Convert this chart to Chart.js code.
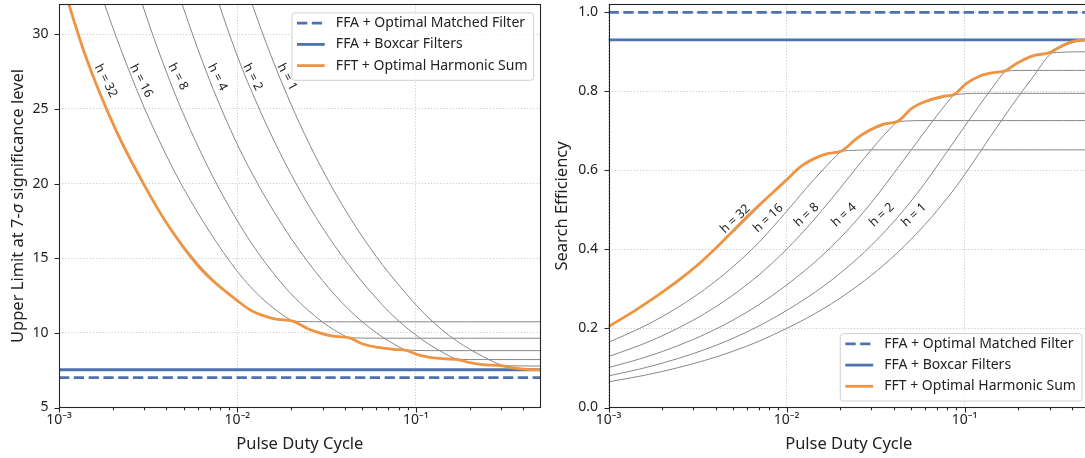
<!DOCTYPE html>
<html>
<head>
<meta charset="utf-8">
<script src="https://cdn.jsdelivr.net/npm/chart.js@4.4.0/dist/chart.umd.min.js"></script>
<style>
  html, body { margin: 0; padding: 0; background: #fff; overflow: hidden; }
  body { width: 1085px; height: 458px; position: relative; }
  .panel { position: absolute; top: 0; width: 548px; height: 458px; }
  #left { left: 0; }
  #right { left: 550px; }
</style>
</head>
<body>
<div class="panel" id="left"><canvas id="limitChart"></canvas></div>
<div class="panel" id="right"><canvas id="effChart"></canvas></div>
<script>
// pulse duty cycle sampling used for the per-harmonic curves
const dutyCycle = [0.001, 0.0015, 0.002, 0.003, 0.004, 0.005, 0.007, 0.01, 0.013, 0.016, 0.02, 0.025, 0.03, 0.035, 0.042, 0.05, 0.06, 0.07, 0.088, 0.1, 0.12, 0.14, 0.17, 0.2, 0.24, 0.3, 0.36, 0.42, 0.5];
const harmonics = [32, 16, 8, 4, 2, 1];

// search efficiency (right panel), one array per number of summed harmonics
const effH1  = [0.065, 0.0792, 0.0911, 0.111, 0.1276, 0.1423, 0.1676, 0.200, 0.2262, 0.2493, 0.2768, 0.3074, 0.3348, 0.3599, 0.3919, 0.4254, 0.4633, 0.498, 0.554, 0.589, 0.641, 0.686, 0.741, 0.786, 0.834, 0.892, 0.914, 0.925, 0.930];
const effH2  = [0.080, 0.0974, 0.1121, 0.1365, 0.157, 0.175, 0.2062, 0.2454, 0.2775, 0.3058, 0.3396, 0.3771, 0.4107, 0.4415, 0.4808, 0.522, 0.5684, 0.611, 0.675, 0.711, 0.762, 0.803, 0.852, 0.872, 0.889, 0.897, 0.899, 0.900, 0.900];
const effH4  = [0.101, 0.123, 0.1415, 0.1723, 0.1982, 0.221, 0.2603, 0.3098, 0.3504, 0.3861, 0.4288, 0.4762, 0.5186, 0.5575, 0.605, 0.651, 0.699, 0.739, 0.794, 0.818, 0.838, 0.846, 0.851, 0.853, 0.853, 0.853, 0.853, 0.853, 0.853];
const effH8  = [0.129, 0.1574, 0.1813, 0.2212, 0.2548, 0.2844, 0.3356, 0.400, 0.4547, 0.5015, 0.5549, 0.6092, 0.6527, 0.6875, 0.7246, 0.755, 0.772, 0.781, 0.791, 0.794, 0.795, 0.795, 0.795, 0.795, 0.795, 0.795, 0.795, 0.795, 0.795];
const effH16 = [0.165, 0.2003, 0.2298, 0.2789, 0.320, 0.356, 0.418, 0.496, 0.5564, 0.6014, 0.646, 0.681, 0.7015, 0.7142, 0.7229, 0.7255, 0.726, 0.726, 0.726, 0.726, 0.726, 0.726, 0.726, 0.726, 0.726, 0.726, 0.726, 0.726, 0.726];
const effH32 = [0.205, 0.253, 0.292, 0.353, 0.402, 0.443, 0.508, 0.576, 0.620, 0.639, 0.6485, 0.651, 0.652, 0.652, 0.652, 0.652, 0.652, 0.652, 0.652, 0.652, 0.652, 0.652, 0.652, 0.652, 0.652, 0.652, 0.652, 0.652, 0.652];

// optimal harmonic sum (orange), sampled on its own duty cycles so the cusps show
const hsumDuty = [0.001, 0.0014, 0.0021, 0.0031, 0.004, 0.0062, 0.01, 0.012, 0.0145, 0.0168, 0.0204, 0.0248, 0.0294, 0.035, 0.0425, 0.0505, 0.0613, 0.0745, 0.0884, 0.103, 0.122, 0.145, 0.169, 0.197, 0.244, 0.3, 0.359, 0.418, 0.5];
const effHsum  = [0.205, 0.2445, 0.298, 0.357, 0.403, 0.489, 0.576, 0.6095, 0.631, 0.642, 0.649, 0.681, 0.702, 0.717, 0.725, 0.757, 0.7757, 0.7866, 0.7935, 0.8206, 0.839, 0.8474, 0.8517, 0.8712, 0.8904, 0.898, 0.9175, 0.9276, 0.930];
const effMatched = 1.0;
const effBoxcar = 0.93;

// upper limit at 7-sigma (left panel), null where the curve is far above the plot
const limH1  = [null, null, null, null, null, null, 41.8, 35.0, 30.95, 28.08, 25.29, 22.77, 20.91, 19.45, 17.86, 16.46, 15.11, 14.06, 12.64, 11.88, 10.92, 10.20, 9.45, 8.91, 8.39, 7.85, 7.66, 7.57, 7.53];
const limH2  = [null, null, null, null, 44.6, 40.0, 33.95, 28.52, 25.23, 22.89, 20.61, 18.56, 17.04, 15.85, 14.56, 13.41, 12.32, 11.46, 10.37, 9.85, 9.19, 8.72, 8.22, 8.03, 7.87, 7.80, 7.79, 7.78, 7.78];
const limH4  = [null, null, null, 40.6, 35.3, 31.7, 26.89, 22.60, 19.98, 18.13, 16.32, 14.70, 13.50, 12.56, 11.57, 10.75, 10.01, 9.47, 8.82, 8.56, 8.35, 8.27, 8.23, 8.21, 8.21, 8.21, 8.21, 8.21, 8.21];
const limH8  = [null, 44.5, 38.6, 31.65, 27.47, 24.61, 20.86, 17.5, 15.39, 13.96, 12.61, 11.49, 10.72, 10.18, 9.66, 9.27, 9.07, 8.96, 8.85, 8.82, 8.81, 8.81, 8.81, 8.81, 8.81, 8.81, 8.81, 8.81, 8.81];
const limH16 = [42.4, 34.95, 30.46, 25.10, 21.88, 19.66, 16.75, 14.11, 12.58, 11.64, 10.84, 10.28, 9.98, 9.80, 9.68, 9.65, 9.64, 9.64, 9.64, 9.64, 9.64, 9.64, 9.64, 9.64, 9.64, 9.64, 9.64, 9.64, 9.64];
const limH32 = [34.15, 27.67, 23.97, 19.83, 17.41, 15.80, 13.78, 12.15, 11.29, 10.95, 10.79, 10.75, 10.74, 10.74, 10.74, 10.74, 10.74, 10.74, 10.74, 10.74, 10.74, 10.74, 10.74, 10.74, 10.74, 10.74, 10.74, 10.74, 10.74];
const limHsum = [34.15, 28.63, 23.49, 19.61, 17.37, 14.31, 12.15, 11.48, 11.09, 10.90, 10.79, 10.28, 9.97, 9.76, 9.66, 9.25, 9.02, 8.90, 8.82, 8.53, 8.34, 8.26, 8.22, 8.03, 7.86, 7.80, 7.63, 7.55, 7.53];
const limMatched = 7.0;
const limBoxcar = 7.53;

// ticks
const xTicks = [0.001, 0.01, 0.1];
const xMinorTicks = [0.002, 0.003, 0.004, 0.005, 0.006, 0.007, 0.008, 0.009, 0.02, 0.03, 0.04, 0.05, 0.06, 0.07, 0.08, 0.09, 0.2, 0.3, 0.4];
const limTicks = [5, 10, 15, 20, 25, 30];
const effTicks = [0, 0.2, 0.4, 0.6, 0.8, 1.0];

// where the "h = n" labels sit (same order as harmonics)
const limLabelX = [0.00183, 0.00289, 0.00465, 0.00772, 0.01218, 0.01897];
const limLabelY = [26.88, 26.88, 27.16, 27.12, 27.14, 27.14];
const effLabelX = [0.00516, 0.0079, 0.01295, 0.02104, 0.0343, 0.052];
const effLabelY = [0.477, 0.479, 0.487, 0.487, 0.487, 0.487];

const BLUE = '#4c72b0';
const ORANGE = '#ef9442';
const GRAY = '#888888';
const GRID = '#c8c8c8';
const FONT = '"Noto Sans", "DejaVu Sans", sans-serif';

Chart.defaults.font.family = FONT;
Chart.defaults.font.size = 14;
Chart.defaults.color = '#222';
Chart.defaults.animation = false;

const SUP = { '-': '\u207b', '0': '\u2070', '1': '\u00b9', '2': '\u00b2', '3': '\u00b3' };
function decadeLabel(v) {
  const e = String(Math.round(Math.log10(v)));
  return '10' + e.split('').map(c => SUP[c] || c).join('');
}

function pts(xs, ys) {
  return xs.map((x, i) => ({ x, y: ys[i] }));
}

function hline(y) {
  return [{ x: 0.001, y }, { x: 0.5, y }];
}

// matplotlib style box and tick marks
const frame = {
  id: 'frame',
  afterDraw(chart) {
    const { ctx, chartArea: a, scales } = chart;
    const L = Math.round(a.left) + 0.5, R = Math.round(a.right) - 0.5;
    const T = Math.round(a.top) + 0.5, B = Math.round(a.bottom) - 0.5;
    ctx.save();
    ctx.strokeStyle = '#262626';
    ctx.lineWidth = 1.1;
    ctx.strokeRect(L, T, R - L, B - T);
    ctx.beginPath();
    xTicks.forEach(v => {
      const px = Math.round(scales.x.getPixelForValue(v)) + 0.5;
      ctx.moveTo(px, B); ctx.lineTo(px, B + 5);
    });
    xMinorTicks.forEach(v => {
      const px = Math.round(scales.x.getPixelForValue(v)) + 0.5;
      ctx.moveTo(px, B); ctx.lineTo(px, B + 2.8);
    });
    scales.y.ticks.forEach(t => {
      const py = Math.round(scales.y.getPixelForValue(t.value)) + 0.5;
      ctx.moveTo(L, py); ctx.lineTo(L - 5, py);
    });
    ctx.stroke();
    ctx.restore();
  }
};

// axis titles, y title may have an italic part
const axisTitles = {
  id: 'axisTitles',
  afterDraw(chart, args, opts) {
    const { ctx, chartArea: a } = chart;
    ctx.save();
    ctx.fillStyle = '#222';
    ctx.font = '16.5px ' + FONT;
    ctx.textAlign = 'center';
    ctx.textBaseline = 'alphabetic';
    ctx.fillText(opts.x, (a.left + a.right) / 2, opts.xBaseline);

    ctx.translate(a.left - opts.yGap, (a.top + a.bottom) / 2);
    ctx.rotate(-Math.PI / 2);
    ctx.textAlign = 'left';
    ctx.textBaseline = 'middle';
    const fonts = opts.y.map(s => (s.italic ? 'italic ' : '') + '16.5px ' + FONT);
    const widths = opts.y.map((s, i) => { ctx.font = fonts[i]; return ctx.measureText(s.text).width; });
    let cx = -widths.reduce((p, w) => p + w, 0) / 2;
    opts.y.forEach((s, i) => {
      ctx.font = fonts[i];
      ctx.fillText(s.text, cx, 0);
      cx += widths[i];
    });
    ctx.restore();
  }
};

// rotated "h = n" notes next to the curves
const curveLabels = {
  id: 'curveLabels',
  afterDatasetsDraw(chart, args, opts) {
    const { ctx, scales } = chart;
    ctx.save();
    ctx.font = '12.5px ' + FONT;
    ctx.fillStyle = '#222';
    ctx.textAlign = 'center';
    ctx.textBaseline = 'middle';
    harmonics.forEach((h, i) => {
      ctx.save();
      ctx.translate(scales.x.getPixelForValue(opts.xs[i]), scales.y.getPixelForValue(opts.ys[i]));
      ctx.rotate(opts.angle * Math.PI / 180);
      ctx.fillText('h = ' + h, 0, 0);
      ctx.restore();
    });
    ctx.restore();
  }
};

// legend inside the plot area
const insetLegend = {
  id: 'insetLegend',
  afterDraw(chart, args, opts) {
    const { ctx, chartArea: a } = chart;
    const items = chart.data.datasets.filter(d => d.label);
    const pad = 5.6, handle = 27.8, gap = 11.1, rowH = 21.2, firstRow = 10.8, boxH = 67.4;
    ctx.save();
    ctx.font = '14px ' + FONT;
    const textW = Math.max(...items.map(d => ctx.measureText(d.label).width));
    const w = pad + handle + gap + textW + pad;
    const x = a.right - 7.5 - w;
    const y = opts.corner === 'top' ? a.top + 8 : a.bottom - 7 - boxH;
    ctx.beginPath();
    ctx.roundRect(x + 0.5, y + 0.5, w, boxH, 3);
    ctx.fillStyle = 'rgba(255,255,255,0.8)';
    ctx.fill();
    ctx.strokeStyle = '#d0d0d0';
    ctx.lineWidth = 1;
    ctx.stroke();
    items.forEach((d, i) => {
      const cy = y + firstRow + i * rowH;
      ctx.beginPath();
      ctx.setLineDash(d.borderDash || []);
      ctx.strokeStyle = d.borderColor;
      ctx.lineWidth = d.borderWidth;
      ctx.moveTo(x + pad, cy);
      ctx.lineTo(x + pad + handle, cy);
      ctx.stroke();
      ctx.setLineDash([]);
      ctx.fillStyle = '#222';
      ctx.textBaseline = 'middle';
      ctx.fillText(d.label, x + pad + handle + gap, cy);
    });
    ctx.restore();
  }
};

function buildDatasets(matched, boxcar, hsumY, curves) {
  const sets = [
    { label: 'FFA + Optimal Matched Filter', data: hline(matched), borderColor: BLUE, borderWidth: 2.8, borderDash: [10.3, 4.5], order: 2 },
    { label: 'FFA + Boxcar Filters', data: hline(boxcar), borderColor: BLUE, borderWidth: 2.8, order: 1 },
    { label: 'FFT + Optimal Harmonic Sum', data: pts(hsumDuty, hsumY), borderColor: ORANGE, borderWidth: 2.8, order: 0 }
  ];
  curves.forEach(ys => {
    sets.push({ data: pts(dutyCycle, ys), borderColor: GRAY, borderWidth: 1, order: 3 });
  });
  return sets;
}

function buildOptions(cfg) {
  return {
    responsive: true,
    maintainAspectRatio: false,
    events: [],
    layout: { padding: { left: 0, top: 4.4, right: cfg.padRight, bottom: 0 } },
    elements: {
      point: { radius: 0 },
      line: { cubicInterpolationMode: 'monotone', fill: false }
    },
    scales: {
      x: {
        type: 'logarithmic',
        min: 0.001,
        max: 0.5,
        afterBuildTicks: s => { s.ticks = xTicks.map(v => ({ value: v })); },
        afterFit: s => { s.height = 50.5; s.paddingLeft = 0; s.paddingRight = 0; },
        ticks: { padding: 4, autoSkip: false, maxRotation: 0, callback: v => decadeLabel(v) },
        grid: { color: GRID, lineWidth: 1, drawTicks: false },
        border: { display: false, dash: [1.1, 2] }
      },
      y: {
        type: 'linear',
        min: cfg.yMin,
        max: cfg.yMax,
        afterBuildTicks: s => { s.ticks = cfg.yTicks.map(v => ({ value: v })); },
        afterFit: s => { s.width = cfg.yWidth; s.paddingTop = 0; s.paddingBottom = 0; },
        ticks: { padding: 10.5, autoSkip: false, callback: cfg.yFormat },
        grid: { color: GRID, lineWidth: 1, drawTicks: false },
        border: { display: false, dash: [1.1, 2] }
      }
    },
    plugins: {
      legend: { display: false },
      tooltip: { enabled: false },
      insetLegend: { corner: cfg.legendCorner },
      curveLabels: { xs: cfg.labelX, ys: cfg.labelY, angle: cfg.labelAngle },
      axisTitles: { x: 'Pulse Duty Cycle', xBaseline: 448.5, y: cfg.yTitle, yGap: cfg.yGap }
    }
  };
}

const plugins = [frame, curveLabels, axisTitles, insetLegend];

new Chart(document.getElementById('limitChart'), {
  type: 'line',
  data: { datasets: buildDatasets(limMatched, limBoxcar, limHsum, [limH32, limH16, limH8, limH4, limH2, limH1]) },
  options: buildOptions({
    padRight: 7.4, yMin: 5, yMax: 32, yTicks: limTicks, yWidth: 59, yFormat: v => String(v),
    legendCorner: 'top', labelX: limLabelX, labelY: limLabelY, labelAngle: 62.5, yGap: 40.3,
    yTitle: [{ text: 'Upper Limit at 7-' }, { text: '\u03c3', italic: true }, { text: ' significance level' }]
  }),
  plugins
});

new Chart(document.getElementById('effChart'), {
  type: 'line',
  data: { datasets: buildDatasets(effMatched, effBoxcar, effHsum, [effH32, effH16, effH8, effH4, effH2, effH1]) },
  options: buildOptions({
    padRight: 9, yMin: 0, yMax: 1.02, yTicks: effTicks, yWidth: 58.5, yFormat: v => v.toFixed(1),
    legendCorner: 'bottom', labelX: effLabelX, labelY: effLabelY, labelAngle: -43, yGap: 45.8,
    yTitle: [{ text: 'Search Efficiency' }]
  }),
  plugins
});
</script>
</body>
</html>
